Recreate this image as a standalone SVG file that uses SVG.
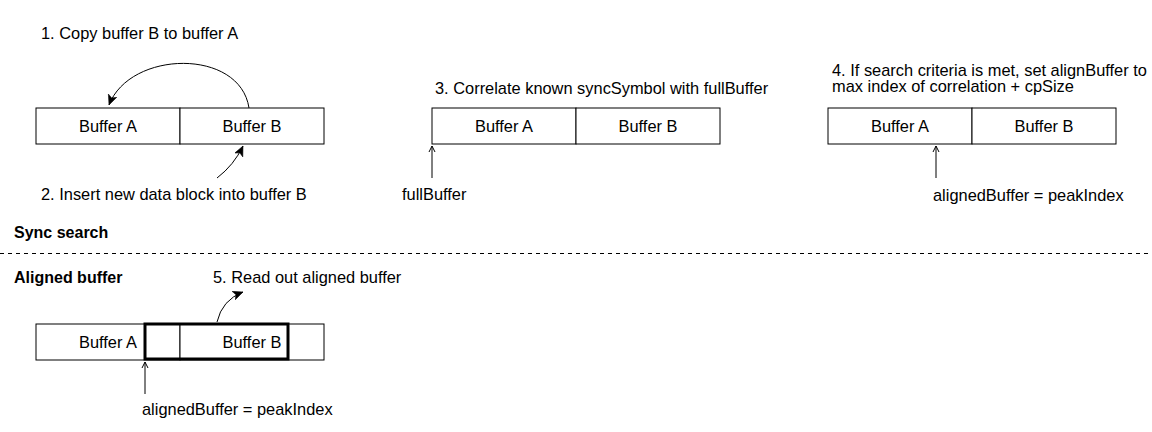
<svg xmlns="http://www.w3.org/2000/svg" width="1152" height="432" viewBox="0 0 1152 432">
<defs>
<style>
text{font-family:"Liberation Sans",Arial,sans-serif;font-size:16.4px;fill:#000}
.c{text-anchor:middle}
.b{font-weight:bold;font-size:16px}
.box{fill:#fff;stroke:#000;stroke-width:1}
.ln{fill:none;stroke:#000;stroke-width:1}
.thick{fill:none;stroke:#000;stroke-width:3}
</style>
<marker id="fa" markerUnits="userSpaceOnUse" markerWidth="12" markerHeight="10" refX="10" refY="4.5" orient="auto" viewBox="0 0 12 10">
<path d="M0,0 L10,4.5 L0,9 L2.5,4.5 z" fill="#000" stroke="#000" stroke-width="0.5"/>
</marker>
<marker id="oa" markerUnits="userSpaceOnUse" markerWidth="10" markerHeight="10" refX="7" refY="4" orient="auto" viewBox="0 0 10 8">
<path d="M1,1 L7,4 L1,7" fill="none" stroke="#000" stroke-width="1"/>
</marker>
</defs>
<rect width="1152" height="432" fill="#fff"/>

<g id="panel1">
<text x="41" y="39">1. Copy buffer B to buffer A</text>
<rect class="box" x="36" y="108" width="144" height="36"/>
<rect class="box" x="180" y="108" width="144" height="36"/>
<text class="c" x="108" y="132">Buffer A</text>
<text class="c" x="252" y="132">Buffer B</text>
<text x="41" y="200">2. Insert new data block into buffer B</text>
</g>

<g id="panel2">
<text x="435" y="94">3. Correlate known syncSymbol with fullBuffer</text>
<rect class="box" x="432" y="108" width="144" height="36"/>
<rect class="box" x="576" y="108" width="144" height="36"/>
<text class="c" x="504" y="132">Buffer A</text>
<text class="c" x="648" y="132">Buffer B</text>
<text x="402" y="200">fullBuffer</text>
</g>

<g id="panel3">
<text x="832" y="76">4. If search criteria is met, set alignBuffer to</text>
<text x="832" y="92">max index of correlation + cpSize</text>
<rect class="box" x="828" y="108" width="144" height="36"/>
<rect class="box" x="972" y="108" width="144" height="36"/>
<text class="c" x="900" y="132">Buffer A</text>
<text class="c" x="1044" y="132">Buffer B</text>
<text x="933" y="201">alignedBuffer = peakIndex</text>
</g>

<g id="separator">
<text class="b" x="14" y="238">Sync search</text>
<line x1="0" y1="253.5" x2="1152" y2="253.5" stroke="#000" stroke-width="1" stroke-dasharray="4 4"/>
<text class="b" x="14" y="283">Aligned buffer</text>
</g>

<g id="panel4">
<text x="213" y="283">5. Read out aligned buffer</text>
<rect class="box" x="36" y="324" width="144" height="36"/>
<rect class="box" x="180" y="324" width="144" height="36"/>
<rect class="thick" x="145" y="324" width="143" height="35"/>
<text class="c" x="108" y="348">Buffer A</text>
<text class="c" x="252" y="348">Buffer B</text>
<text x="142" y="415">alignedBuffer = peakIndex</text>
</g>

<g id="connectors">
<path class="ln" d="M249,108 C240,48 130,50 109,105" marker-end="url(#fa)"/>
<path class="ln" d="M217,178 Q234,165 243,146" marker-end="url(#fa)"/>
<path class="ln" d="M432,178 L432,146" marker-end="url(#oa)"/>
<path class="ln" d="M936,178 L936,146" marker-end="url(#oa)"/>
<path class="ln" d="M217,322 Q222,300 243,292" marker-end="url(#fa)"/>
<path class="ln" d="M145,394 L145,362" marker-end="url(#oa)"/>
</g>
</svg>
